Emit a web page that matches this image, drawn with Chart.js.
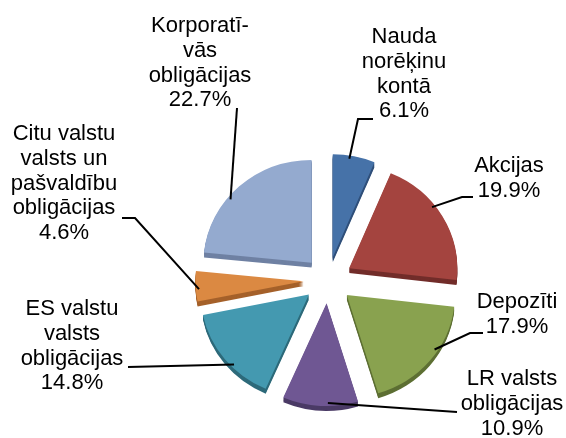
<!DOCTYPE html>
<html>
<head>
<meta charset="utf-8">
<script src="https://cdn.jsdelivr.net/npm/chart.js@4.4.0/dist/chart.umd.min.js"></script>
<style>
  html, body { margin: 0; padding: 0; background: #fff; }
</style>
</head>
<body>
<canvas id="pieChart" width="566" height="438"></canvas>
<script>
// data, clockwise from 12 o'clock
const categories = [
  ['Nauda', 'norēķinu', 'kontā'],
  ['Akcijas'],
  ['Depozīti'],
  ['LR valsts', 'obligācijas'],
  ['ES valstu', 'valsts', 'obligācijas'],
  ['Citu valstu', 'valsts un', 'pašvaldību', 'obligācijas'],
  ['Korporatī-', 'vās', 'obligācijas']
];
const shares = [6.1, 19.9, 17.9, 10.9, 14.8, 4.6, 22.7];
const shareLabels = ['6.1%', '19.9%', '17.9%', '10.9%', '14.8%', '4.6%', '22.7%'];

const topColors = ['#4672A8', '#A4443F', '#89A24F', '#6F5793', '#4499B0', '#DB8942', '#94AACF'];
const sideColors = ['#30507A', '#722D2A', '#5D6F33', '#4B3B66', '#2D6A7A', '#A5612A', '#6F81A3'];

// where the labels sit (centre x, first baseline) and the bend of the leader line
const labelLayout = [
  { x: 404, y: 43,  hook: [[373, 119], [358, 119]] },
  { x: 509, y: 172, hook: [[473, 197], [462, 197]] },
  { x: 517, y: 308, hook: [[483, 333], [470, 333]] },
  { x: 512, y: 385, hook: [[457, 412]] },
  { x: 72,  y: 315, hook: [[128, 367]] },
  { x: 64,  y: 140, hook: [[122, 218], [135, 218]] },
  { x: 200, y: 32,  hook: [[237, 108]] }
];

const EXPLODE = 24;
const DEPTH = 5;
const LINE = 24.8;
const SX = 1.02, SY = 0.97; // slight perspective squash

const baseArcDraw = Chart.elements.ArcElement.prototype.draw;

function arcShift(a) {
  const mid = (a.startAngle + a.endAngle) / 2;
  return [Math.cos(mid) * EXPLODE, Math.sin(mid) * EXPLODE];
}

function squash(ctx, a) {
  ctx.translate(a.x, a.y);
  ctx.scale(SX, SY);
  ctx.translate(-a.x, -a.y);
}

// pull each slice out along its middle angle without growing its radius
function explodedDraw(ctx, area) {
  const [dx, dy] = arcShift(this);
  ctx.save();
  squash(ctx, this);
  ctx.translate(dx, dy);
  baseArcDraw.call(this, ctx, area);
  ctx.restore();
}

const pie3d = {
  id: 'pie3d',
  beforeDatasetsDraw(chart) {
    const ctx = chart.ctx;
    chart.getDatasetMeta(0).data.forEach((a, i) => {
      a.draw = explodedDraw;
      const [dx, dy] = arcShift(a);
      ctx.save();
      squash(ctx, a);
      ctx.fillStyle = sideColors[i];
      for (let k = DEPTH; k >= 1; k--) {
        ctx.beginPath();
        ctx.moveTo(a.x + dx, a.y + dy + k);
        ctx.arc(a.x + dx, a.y + dy + k, a.outerRadius, a.startAngle, a.endAngle);
        ctx.closePath();
        ctx.fill();
      }
      ctx.restore();
    });
  },
  afterDatasetsDraw(chart) {
    const ctx = chart.ctx;
    ctx.save();
    ctx.font = '22px "Liberation Sans", Arial, sans-serif';
    ctx.textAlign = 'center';
    ctx.textBaseline = 'alphabetic';
    ctx.fillStyle = '#000';
    ctx.strokeStyle = '#000';
    ctx.lineWidth = 2;
    chart.getDatasetMeta(0).data.forEach((a, i) => {
      const lay = labelLayout[i];
      const lines = categories[i].concat([shareLabels[i]]);
      lines.forEach((t, k) => ctx.fillText(t, lay.x, lay.y + k * LINE));

      const [dx, dy] = arcShift(a);
      const ang = a.startAngle + (a.endAngle - a.startAngle) * 0.4;
      const r = a.outerRadius * 0.97;
      const ex = a.x + (dx + Math.cos(ang) * r) * SX;
      const ey = a.y + (dy + Math.sin(ang) * r) * SY;
      ctx.beginPath();
      lay.hook.forEach((p, k) => k ? ctx.lineTo(p[0], p[1]) : ctx.moveTo(p[0], p[1]));
      ctx.lineTo(ex, ey);
      ctx.stroke();
    });
    ctx.restore();
  }
};

new Chart(document.getElementById('pieChart'), {
  type: 'pie',
  data: {
    labels: categories.map(c => c.join(' ')),
    datasets: [{
      data: shares,
      backgroundColor: topColors,
      borderWidth: 0,
      offset: 0,
      hoverOffset: 0,
      radius: 106
    }]
  },
  options: {
    responsive: false,
    devicePixelRatio: 1,
    animation: false,
    events: [],
    layout: { padding: { left: 90, top: 122, right: 0, bottom: 0 } },
    plugins: { legend: { display: false }, tooltip: { enabled: false } }
  },
  plugins: [pie3d]
});
</script>
</body>
</html>
